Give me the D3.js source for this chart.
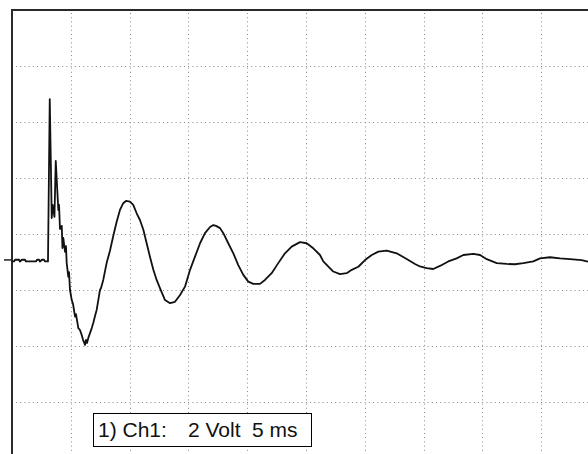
<!DOCTYPE html>
<html>
<head>
<meta charset="utf-8">
<script src="https://cdn.jsdelivr.net/npm/d3@7"></script>
<style>
  body { margin: 0; background: #fff; }
  svg { display: block; }
</style>
</head>
<body>
<div id="scope"></div>
<script>
var w = 588
var h = 454

// trace: time in ms, voltage in volts
var timeMs = [0, 0.17, 0.26, 0.60, 0.68, 0.85, 1.11, 1.19, 2.04, 2.13, 2.30, 2.38, 2.55, 2.72, 2.81, 3.02, 3.06,
    3.21, 3.38, 3.46, 3.61, 3.72, 3.85, 3.94, 4.00, 4.08, 4.23, 4.29, 4.36, 4.51, 4.59, 4.65, 4.79, 4.85, 4.93,
    5.08, 5.19, 5.36, 5.44, 5.64, 5.78, 5.93, 6.04, 6.21, 6.29, 6.38, 6.49, 6.78, 6.91, 7.06, 7.20, 7.31, 7.48,
    7.57, 7.76, 8.05, 8.33, 8.61, 8.90, 9.18, 9.46, 9.69, 10.03, 10.31, 10.60, 10.88, 11.17, 11.45, 11.73, 12.02,
    12.30, 12.59, 13.01, 13.44, 13.86, 14.29, 14.71, 15.14, 15.56, 15.99, 16.41, 16.84, 17.12, 17.35, 17.69,
    17.97, 18.39, 18.82, 19.24, 19.67, 20.09, 20.52, 21.09, 21.51, 22.08, 22.64, 23.21, 23.78, 24.49, 25.06,
    25.62, 26.19, 26.47, 27.32, 27.89, 28.46, 28.89, 29.45, 30.02, 30.59, 31.15, 31.86, 32.71, 33.56, 34.27,
    34.69, 35.26, 35.82, 36.39, 37.10, 37.81, 38.38, 39.23, 39.80, 40.37, 41.22, 42.07, 42.77, 43.48, 44.33,
    44.90, 45.75, 46.60, 47.45, 48.44, 48.98]
var volts = [0, 0, 0.06, 0.06, 0, 0.06, 0.06, 0, 0, 0.06, 0.06, 0, 0.06, 0.06, 0, 0, 0,
    5.80, 1.55, 2.02, 1.59, 3.59, 2.55, 1.84, 2.02, 1.16, 1.27, 0.48, 0.84, 0.34, 0.55, -0.05, -0.55, -0.38, -1.02,
    -1.38, -1.52, -1.97, -1.88, -2.38, -2.45, -2.63, -2.80, -2.98, -2.80, -2.91, -2.73, -2.38, -2.20, -1.95, -1.73, -1.45, -1.02,
    -0.95, -0.66, -0.05, 0.38, 0.91, 1.42, 1.84, 2.08, 2.16, 2.14, 2.02, 1.72, 1.48, 1.13, 0.65, 0.17, -0.30,
    -0.66, -0.96, -1.38, -1.49, -1.44, -1.20, -0.90, -0.30, 0.17, 0.65, 1.01, 1.23, 1.30, 1.27, 1.19,
    1.01, 0.65, 0.29, -0.13, -0.48, -0.72, -0.80, -0.80, -0.66, -0.42, -0.06, 0.29, 0.53, 0.69, 0.65,
    0.47, 0.23, 0, -0.36, -0.45, -0.42, -0.30, -0.19, 0.05, 0.23, 0.35, 0.39, 0.29, 0.09, -0.09,
    -0.18, -0.24, -0.27, -0.16, 0, 0.11, 0.23, 0.27, 0.23, 0.08, -0.06, -0.09, -0.10, -0.06, 0,
    0.11, 0.15, 0.11, 0.08, 0.05, -0.01]

var voltsPerDiv = 2
var msPerDiv = 5
var legendParts = ["1) Ch1:", voltsPerDiv + " Volt", msPerDiv + " ms"]

var svg = d3.select("#scope").append("svg").attr("width", w).attr("height", h)

// 10 x 8 divisions, screen is cut at the right and bottom
var x = d3.scaleLinear().domain([0, 50]).range([12, 600])
var y = d3.scaleLinear().domain([-7.02, 8.98]).range([458, 10])

var vTicks = d3.range(1, 10).map(function(i) { return i * msPerDiv })
var hTicks = d3.range(1, 8).map(function(i) { return 8.98 - i * voltsPerDiv })

svg.append("g").selectAll("line")
    .data(vTicks)
    .enter()
    .append("line")
    .attr("x1", function(d) { return Math.round(x(d)) + 0.5 })
    .attr("x2", function(d) { return Math.round(x(d)) + 0.5 })
    .attr("y1", 13)
    .attr("y2", h)
    .attr("stroke", "#8a8a8a")
    .attr("stroke-dasharray", "1,3.2")

svg.append("g").selectAll("line")
    .data(hTicks)
    .enter()
    .append("line")
    .attr("x1", 16)
    .attr("x2", w)
    .attr("y1", function(d) { return Math.round(y(d)) + 0.5 })
    .attr("y2", function(d) { return Math.round(y(d)) + 0.5 })
    .attr("stroke", "#8a8a8a")
    .attr("stroke-dasharray", "1,3.2")

// frame (top and left only)
svg.append("line").attr("x1", 11).attr("x2", w).attr("y1", 10).attr("y2", 10)
    .attr("stroke", "#2a2a2a").attr("stroke-width", 2)
svg.append("line").attr("x1", 12).attr("x2", 12).attr("y1", 9).attr("y2", h)
    .attr("stroke", "#2a2a2a").attr("stroke-width", 2)

// ground marker
svg.append("line").attr("x1", 4).attr("x2", x(0)).attr("y1", y(0) - 1.5).attr("y2", y(0) - 1.5)
    .attr("stroke", "#222").attr("stroke-width", 1.5)

var pts = timeMs.map(function(t, i) { return [t, volts[i]] })
var line = d3.line()
    .x(function(d) { return x(d[0]) })
    .y(function(d) { return y(d[1]) })

svg.append("path")
    .datum(pts)
    .attr("d", line)
    .attr("fill", "none")
    .attr("stroke", "#111")
    .attr("stroke-width", 1.8)
    .attr("stroke-linejoin", "round")

// legend box
svg.append("rect")
    .attr("x", 93.5).attr("y", 413.5)
    .attr("width", 218).attr("height", 33)
    .attr("fill", "#fff").attr("stroke", "#000").attr("stroke-width", 1)

var legendX = [98, 188, 252]
svg.selectAll("text.legend")
    .data(legendParts)
    .enter()
    .append("text")
    .attr("class", "legend")
    .attr("x", function(d, i) { return legendX[i] })
    .attr("y", 437)
    .attr("font-family", "Liberation Sans, Arial, sans-serif")
    .attr("font-size", "21px")
    .attr("fill", "#111")
    .text(function(d) { return d })
</script>
</body>
</html>
